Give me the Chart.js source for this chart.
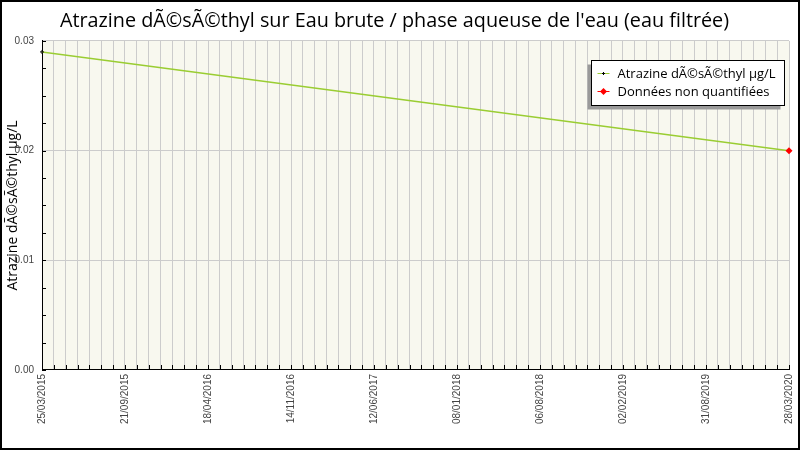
<!DOCTYPE html>
<html>
<head>
<meta charset="utf-8">
<script src="https://cdn.jsdelivr.net/npm/chart.js@4.4.1/dist/chart.umd.min.js"></script>
<style>
  html, body { margin: 0; padding: 0; background: #fff; }
  #wrap { width: 800px; height: 450px; }
</style>
</head>
<body>
<div id="wrap"><canvas id="myChart" width="800" height="450"></canvas></div>
<script>
// data
var titleText = "Atrazine dÃ©sÃ©thyl sur Eau brute / phase aqueuse de l'eau (eau filtrée)";
var yTitle = "Atrazine dÃ©sÃ©thyl µg/L";
var seriesLabel = "Atrazine dÃ©sÃ©thyl µg/L";
var nqLabel = "Données non quantifiées";

var sampleDates = ["25/03/2015", "28/03/2020"];
var sampleValues = [0.029, 0.02];

var nqDates = ["28/03/2020"];
var nqValues = [0.02];

var tickLabels = ["25/03/2015", "21/09/2015", "18/04/2016", "14/11/2016", "12/06/2017",
                  "08/01/2018", "06/08/2018", "02/02/2019", "31/08/2019", "28/03/2020"];
var gridPerLabel = 7;
var yTicks = [0, 0.01, 0.02, 0.03];
var yMinorStep = 0.0025;

function toDay(s) {
   var p = s.split('/');
   return Date.UTC(+p[2], +p[1] - 1, +p[0]) / 86400000;
}

function toPoints(dates, values) {
   var out = [];
   for (var i = 0; i < dates.length; i++) {
      out.push({x: toDay(dates[i]), y: values[i]});
   }
   return out;
}

var xMin = toDay(tickLabels[0]);
var xMax = toDay(tickLabels[tickLabels.length - 1]);
var gridCount = (tickLabels.length - 1) * gridPerLabel;

var plotLook = {
   id: 'plotLook',
   beforeDraw: function(chart) {
      var ctx = chart.ctx, a = chart.chartArea;
      ctx.save();
      ctx.fillStyle = '#f8f8ef';
      ctx.fillRect(a.left, a.top, a.right - a.left, a.bottom - a.top);
      ctx.restore();
   },
   afterDatasetsDraw: function(chart) {
      // small tick marks pointing into the plot
      var ctx = chart.ctx, a = chart.chartArea;
      var xs = chart.scales.x, ys = chart.scales.y;
      ctx.save();
      ctx.strokeStyle = '#000';
      ctx.lineWidth = 1;
      ctx.beginPath();
      xs.ticks.forEach(function(t) {
         var px = Math.round(xs.getPixelForValue(t.value)) + 0.5;
         ctx.moveTo(px, a.bottom);
         ctx.lineTo(px, a.bottom - 5);
      });
      for (var v = ys.min; v <= ys.max + 1e-9; v += yMinorStep) {
         var py = Math.round(ys.getPixelForValue(v)) + 0.5;
         ctx.moveTo(a.left, py);
         ctx.lineTo(a.left + 4, py);
      }
      ctx.stroke();
      ctx.restore();
   },
   afterDraw: function(chart) {
      var ctx = chart.ctx, a = chart.chartArea;
      var ds = chart.data.datasets;
      ctx.save();
      ctx.font = '13px "Open Sans"';
      var w = 0;
      ds.forEach(function(d) { w = Math.max(w, ctx.measureText(d.label).width); });
      var bw = Math.round(26 + w + 9), bh = 45;
      var bx = Math.round(a.right - 5 - bw) + 0.5, by = Math.round(a.top + 19) + 0.5;
      ctx.fillStyle = '#9a9a9a';
      ctx.fillRect(bx - 4, by + 4, bw, bh);
      ctx.fillStyle = '#fff';
      ctx.fillRect(bx, by, bw, bh);
      ctx.strokeStyle = '#000';
      ctx.lineWidth = 1;
      ctx.strokeRect(bx, by, bw, bh);
      ds.forEach(function(d, i) {
         var ry = Math.round(by + 12 + i * 18);
         ctx.strokeStyle = d.legendLine;
         ctx.lineWidth = 1;
         ctx.beginPath();
         ctx.moveTo(bx + 6, ry + 0.5);
         ctx.lineTo(bx + 18, ry + 0.5);
         ctx.stroke();
         var mx = bx + 12;
         if (i === 0) {
            ctx.strokeStyle = '#000';
            ctx.beginPath();
            ctx.moveTo(mx - 1.5, ry + 0.5); ctx.lineTo(mx + 1.5, ry + 0.5);
            ctx.moveTo(mx, ry - 1); ctx.lineTo(mx, ry + 2);
            ctx.stroke();
         } else {
            ctx.fillStyle = d.pointBackgroundColor;
            ctx.beginPath();
            ctx.moveTo(mx, ry - 3); ctx.lineTo(mx + 3.5, ry + 0.5);
            ctx.lineTo(mx, ry + 4); ctx.lineTo(mx - 3.5, ry + 0.5);
            ctx.closePath();
            ctx.fill();
         }
         ctx.fillStyle = '#000';
         ctx.textBaseline = 'middle';
         ctx.fillText(d.label, bx + 26, ry + 1);
      });
      // outer frame
      ctx.strokeStyle = '#000';
      ctx.lineWidth = 2;
      ctx.strokeRect(1, 1, chart.width - 2, chart.height - 2);
      ctx.restore();
   }
};

var context = document.getElementById('myChart').getContext('2d');
var chart = new Chart(context, {
   type: 'scatter',
   data: {
      datasets: [{
         label: seriesLabel,
         data: toPoints(sampleDates, sampleValues),
         order: 1,
         showLine: true,
         borderColor: '#9acd32',
         borderWidth: 1.5,
         legendLine: '#9acd32',
         pointStyle: 'cross',
         pointRadius: 2,
         pointBorderColor: '#000',
         pointBorderWidth: 1,
         clip: false
      }, {
         label: nqLabel,
         data: toPoints(nqDates, nqValues),
         order: 0,
         showLine: false,
         legendLine: '#ff0000',
         pointStyle: 'rectRot',
         pointRadius: 3.5,
         pointBackgroundColor: '#ff0000',
         pointBorderColor: '#ff0000',
         pointBorderWidth: 0,
         clip: false
      }]
   },
   options: {
      responsive: false,
      animation: false,
      layout: { padding: { left: 0, right: 11, top: 0, bottom: 0 } },
      plugins: {
         legend: { display: false },
         tooltip: { enabled: false },
         title: {
            display: true,
            text: titleText,
            color: '#000',
            font: { family: '"Open Sans"', size: 19.8, weight: 'normal', lineHeight: 1.2 },
            padding: { top: 9, bottom: 8.2 }
         }
      },
      scales: {
         x: {
            type: 'linear',
            min: xMin,
            max: xMax,
            afterBuildTicks: function(scale) {
               var t = [];
               for (var i = 0; i <= gridCount; i++) {
                  t.push({value: xMin + i * (xMax - xMin) / gridCount});
               }
               scale.ticks = t;
            },
            afterFit: function(scale) {
               scale.height = 80;
               scale.paddingLeft = 0;
               scale.paddingRight = 0;
            },
            grid: { color: '#cccccc', drawTicks: false },
            border: { color: '#000', width: 1 },
            ticks: {
               autoSkip: false,
               minRotation: 90,
               maxRotation: 90,
               padding: 4,
               color: '#444',
               font: { family: '"Liberation Sans"', size: 10 },
               callback: function(value, index) {
                  return index % gridPerLabel === 0 ? tickLabels[index / gridPerLabel] : '';
               }
            }
         },
         y: {
            min: yTicks[0],
            max: yTicks[yTicks.length - 1],
            afterBuildTicks: function(scale) {
               scale.ticks = yTicks.map(function(v) { return {value: v}; });
            },
            afterFit: function(scale) {
               scale.width = 42;
               scale.paddingTop = 0;
               scale.paddingBottom = 0;
            },
            grid: { color: '#cccccc', drawTicks: false },
            border: { color: '#000', width: 1 },
            title: {
               display: true,
               text: yTitle,
               color: '#000',
               font: { family: '"Open Sans"', size: 14 },
               padding: { top: 5, bottom: 0 }
            },
            ticks: {
               padding: 8,
               color: '#444',
               font: { family: '"Liberation Sans"', size: 10 },
               callback: function(value) { return value.toFixed(2); }
            }
         }
      }
   },
   plugins: [plotLook]
});
</script>
</body>
</html>
